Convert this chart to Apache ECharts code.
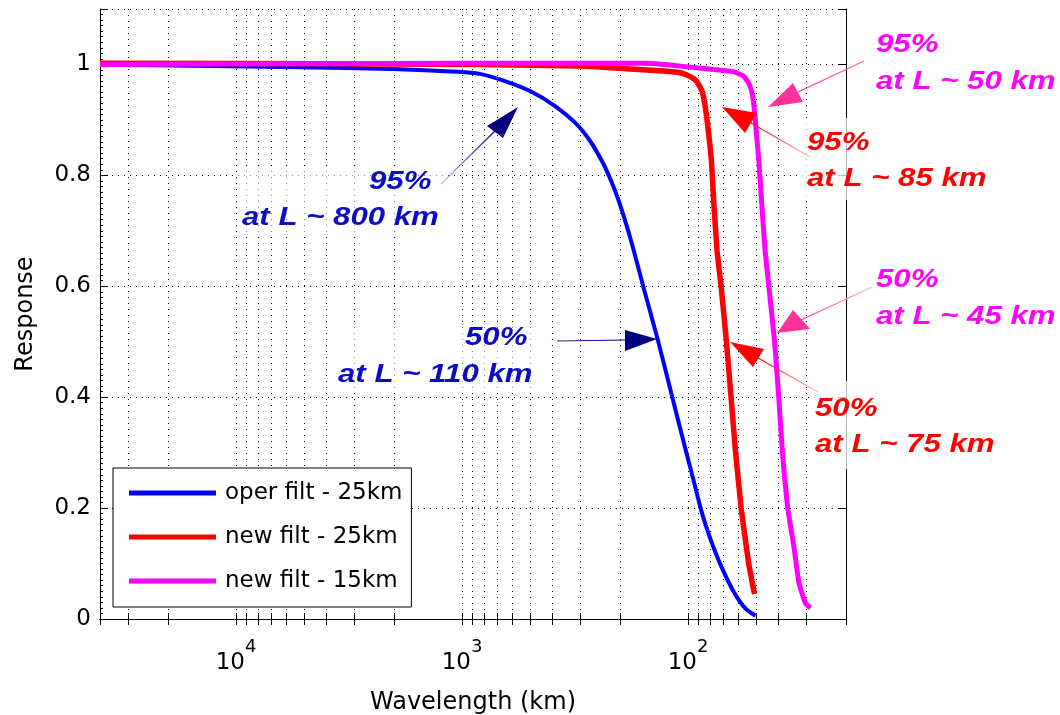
<!DOCTYPE html>
<html>
<head>
<meta charset="utf-8">
<script src="https://cdn.jsdelivr.net/npm/echarts@6/dist/echarts.min.js"></script>
<style>
html,body{margin:0;padding:0;background:#fff;}
#c{width:1060px;height:715px;}
</style>
</head>
<body>
<div id="c"></div>
<script>
// ---------------- data ----------------
const seriesNames = ['oper filt - 25km', 'new filt - 25km', 'new filt - 15km'];

// oper filt - 25km (wavelength km, response)
const operL = [40000, 5240, 2030, 1055, 834, 646, 500, 387.7, 316.1, 271.3, 239.9, 218.9, 203.8, 187.8, 174.8, 157.9, 135.4, 117.4, 101.7, 93.8, 87.3, 81.3, 75.6, 70.4, 64.9, 59.8, 55.1, 50.3];
const operR = [1.000, 0.995, 0.992, 0.987, 0.983, 0.970, 0.952, 0.925, 0.895, 0.862, 0.825, 0.790, 0.757, 0.712, 0.668, 0.600, 0.500, 0.400, 0.300, 0.245, 0.195, 0.155, 0.120, 0.090, 0.060, 0.035, 0.017, 0.006];

// new filt - 25km
const new25L = [40000, 1887, 834, 300, 180.3, 128.7, 108.2, 97.7, 91.9, 86.7, 83.8, 81.0, 78.8, 77.0, 74.4, 71.4, 67.7, 64.5, 61.7, 58.2, 53.9, 50.8];
const new25R = [1.002, 1.001, 1.000, 0.997, 0.992, 0.988, 0.985, 0.978, 0.970, 0.952, 0.922, 0.874, 0.826, 0.754, 0.664, 0.600, 0.502, 0.400, 0.304, 0.200, 0.100, 0.045];

// new filt - 15km
const new15L = [40000, 1000, 151.5, 108.2, 77.2, 63.0, 56.9, 54.0, 51.9, 50.8, 49.8, 48.6, 47.5, 45.6, 43.9, 41.4, 39.7, 38.2, 36.2, 34.0, 32.3, 30.2, 28.7];
const new15R = [1.000, 1.002, 1.002, 0.997, 0.991, 0.987, 0.979, 0.967, 0.946, 0.916, 0.874, 0.826, 0.766, 0.664, 0.600, 0.500, 0.400, 0.300, 0.200, 0.130, 0.065, 0.028, 0.020];

// axis ticks
const xMin = 20, xMax = 40000;
const xLabelTicks = [100, 1000, 10000];
const xAllTicks = [20, 30, 40, 50, 60, 70, 80, 90, 100, 200, 300, 400, 500, 600, 700, 800, 900,
                   1000, 2000, 3000, 4000, 5000, 6000, 7000, 8000, 9000, 10000, 20000, 30000, 40000];
const yMin = 0, yMax = 1.1, yStep = 0.2;
const yMinorTicks = [];
for (let i = 0; i <= 110; i++) yMinorTicks.push(+(i * 0.01).toFixed(2));

// annotations
const notes = [
  {lines: ['95%', 'at L ~ 800 km'], color: '#0c0cc4'},
  {lines: ['50%', 'at L ~ 110 km'], color: '#0c0cc4'},
  {lines: ['95%', 'at L ~ 50 km'], color: '#ff00ff'},
  {lines: ['95%', 'at L ~ 85 km'], color: '#ff0000'},
  {lines: ['50%', 'at L ~ 45 km'], color: '#ff00ff'},
  {lines: ['50%', 'at L ~ 75 km'], color: '#ff0000'}
];

// --------------- helpers ---------------
const pairs = (xs, ys) => xs.map((x, i) => [x, ys[i]]);
const FONT = 'DejaVu Sans';
const gridDash = {color: '#000', width: 1, type: [1, 5]};

// annotation layout (screen positions of text and arrows)
const textPos = [
  [[369, 182], [242, 218]],
  [[465, 338], [338, 375]],
  [[876, 45], [876, 82]],
  [[807, 143], [807, 179]],
  [[876, 280], [876, 317]],
  [[815, 409], [815, 445]]
];
const arrowDefs = [
  {from: [441, 184], to: [496, 130], head: [[518, 107], [487, 126], [503, 138]], c0: '#c8c8f0', c1: '#000080', head_c: '#000080'},
  {from: [557, 341], to: [626, 340], head: [[657, 339], [625, 330], [625, 351]], c0: '#3030a0', c1: '#000080', head_c: '#000080'},
  {from: [810, 157], to: [751, 123], head: [[722, 107], [757, 113], [745, 133]], c0: '#ffc0c0', c1: '#ff0000', head_c: '#ff0000'},
  {from: [818, 392], to: [758, 358], head: [[730, 342], [764, 349], [753, 367]], c0: '#ffc0c0', c1: '#ff0000', head_c: '#ff0000'},
  {from: [864, 61], to: [798, 92], head: [[768, 107], [793, 83], [803, 102]], c0: '#ff66b3', c1: '#ff3399', head_c: '#ff3399'},
  {from: [872, 287], to: [801, 320], head: [[777, 333], [793, 310], [810, 329]], c0: '#ffb0d8', c1: '#ff3399', head_c: '#ff3399'}
];

const graphics = [];
// translucent backgrounds behind the labels that sit over the axes box
graphics.push({type: 'rect', shape: {x: 801, y: 118, width: 195, height: 82}, style: {fill: 'rgba(255,255,255,0.72)'}, z: 50});
graphics.push({type: 'rect', shape: {x: 809, y: 381, width: 195, height: 88}, style: {fill: 'rgba(255,255,255,0.72)'}, z: 50});
graphics.push({type: 'rect', shape: {x: 238, y: 168, width: 206, height: 64}, style: {fill: 'rgba(255,255,255,0.55)'}, z: 50});
graphics.push({type: 'rect', shape: {x: 334, y: 324, width: 206, height: 64}, style: {fill: 'rgba(255,255,255,0.55)'}, z: 50});

arrowDefs.forEach(a => {
  graphics.push({
    type: 'line', z: 51,
    shape: {x1: a.from[0], y1: a.from[1], x2: a.to[0], y2: a.to[1]},
    style: {
      stroke: {type: 'linear', x: a.from[0], y: a.from[1], x2: a.to[0], y2: a.to[1], global: true,
               colorStops: [{offset: 0, color: a.c0}, {offset: 1, color: a.c1}]},
      lineWidth: 1.2
    }
  });
  graphics.push({type: 'polygon', z: 52, shape: {points: a.head}, style: {fill: a.head_c}});
});
notes.forEach((n, i) => {
  n.lines.forEach((t, j) => {
    graphics.push({
      type: 'text', z: 53,
      x: textPos[i][j][0], y: textPos[i][j][1], scaleX: 1.2,
      style: {
        text: t, fill: n.color,
        font: 'italic bold 26px "Liberation Sans"',
        align: 'left', verticalAlign: 'middle'
      }
    });
  });
});

// --------------- chart ---------------
const chart = echarts.init(document.getElementById('c'), null, {renderer: 'canvas'});

const logAxisBase = {
  type: 'log', logBase: 10, min: xMin, max: xMax, inverse: true,
  axisLine: {show: true, lineStyle: {color: '#000', width: 1}},
  splitLine: {show: false}, minorTick: {show: false}, minorSplitLine: {show: false}
};
const valAxisBase = {
  type: 'value', min: yMin, max: yMax, interval: yStep,
  axisLine: {show: true, lineStyle: {color: '#000', width: 1}},
  splitLine: {show: false}
};

const option = {
  animation: false,
  backgroundColor: '#fff',
  grid: {left: 100, top: 9, width: 746, height: 610, containLabel: false, outerBoundsMode: 'none'},
  xAxis: [
    Object.assign({}, logAxisBase, {
      position: 'bottom',
      name: 'Wavelength (km)', nameLocation: 'middle', nameGap: 72,
      nameTextStyle: {fontFamily: FONT, fontSize: 24, color: '#000'},
      axisTick: {show: true, inside: true, length: 6, customValues: xAllTicks, lineStyle: {color: '#000'}},
      splitLine: {show: true, lineStyle: gridDash},
      axisLabel: {
        show: true, customValues: xLabelTicks, margin: 19,
        formatter: v => '{b|10}{s|' + Math.round(Math.log10(v)) + '}',
        rich: {
          b: {fontFamily: FONT, fontSize: 23, color: '#000', padding: [14, 0, 0, 0], verticalAlign: 'bottom'},
          s: {fontFamily: FONT, fontSize: 18, color: '#000', verticalAlign: 'top'}
        }
      }
    }),
    Object.assign({}, logAxisBase, {
      position: 'top',
      axisTick: {show: true, inside: true, length: 6, customValues: xAllTicks, lineStyle: {color: '#000'}},
      axisLabel: {show: false}
    })
  ],
  yAxis: [
    Object.assign({}, valAxisBase, {
      position: 'left',
      name: 'Response', nameLocation: 'middle', nameGap: 62,
      nameTextStyle: {fontFamily: FONT, fontSize: 24, color: '#000'},
      axisTick: {show: true, inside: true, length: 8, lineStyle: {color: '#000'}},
      splitLine: {show: true, lineStyle: gridDash},
      axisLabel: {
        show: true, margin: 9, fontFamily: FONT, fontSize: 23, color: '#000',
        formatter: v => (v > 1.05 ? '' : String(+v.toFixed(1)))
      }
    }),
    Object.assign({}, valAxisBase, {
      position: 'right',
      axisTick: {show: true, inside: true, length: 8, lineStyle: {color: '#000'}},
      axisLabel: {show: false}
    }),
    Object.assign({}, valAxisBase, {
      position: 'left',
      axisLine: {show: false},
      axisTick: {show: true, inside: true, length: 3, customValues: yMinorTicks, lineStyle: {color: '#000'}},
      axisLabel: {show: false}
    })
  ],
  legend: {
    show: true, orient: 'vertical', left: 113, top: 468,
    data: seriesNames,
    icon: 'rect', itemWidth: 87, itemHeight: 5, itemGap: 16,
    padding: [11, 9, 12, 16],
    borderColor: '#000', borderWidth: 1, backgroundColor: '#fff',
    textStyle: {fontFamily: FONT, fontSize: 23, color: '#000', lineHeight: 28, padding: [0, 0, 0, 4]},
    selectedMode: false
  },
  series: [
    {name: seriesNames[0], type: 'line', data: pairs(operL, operR), color: '#0000ff',
     showSymbol: false, symbol: 'none', smooth: 0.3, lineStyle: {width: 4, color: '#0000ff'}, z: 3},
    {name: seriesNames[1], type: 'line', data: pairs(new25L, new25R), color: '#ff0000',
     showSymbol: false, symbol: 'none', smooth: 0.15, lineStyle: {width: 5.5, color: '#ff0000'}, z: 4},
    {name: seriesNames[2], type: 'line', data: pairs(new15L, new15R), color: '#ff00ff',
     showSymbol: false, symbol: 'none', smooth: 0.15, lineStyle: {width: 5, color: '#ff00ff'}, z: 5}
  ],
  graphic: {elements: graphics}
};
chart.setOption(option);
</script>
</body>
</html>
